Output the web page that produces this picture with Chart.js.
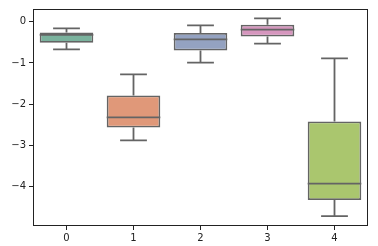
<!DOCTYPE html>
<html>
<head>
<meta charset="utf-8">
<script src="https://cdn.jsdelivr.net/npm/chart.js@4"></script>
<style>
  html, body { margin: 0; padding: 0; background: #fff; }
  #wrap { width: 378px; height: 246px; }
</style>
</head>
<body>
<div id="wrap"><canvas id="myChart" width="378" height="246"></canvas></div>
<script>
// box plot values
var labels = ["0", "1", "2", "3", "4"];
var whiskerLow = [-0.67, -2.88, -0.99, -0.53, -4.72];
var q1 = [-0.51, -2.57, -0.70, -0.36, -4.33];
var median = [-0.32, -2.32, -0.43, -0.19, -3.93];
var q3 = [-0.26, -1.79, -0.27, -0.07, -2.42];
var whiskerHigh = [-0.16, -1.28, -0.09, 0.08, -0.89];
var yTicks = [0, -1, -2, -3, -4];

var boxColors = ['rgb(122,178,157)', 'rgb(224,152,121)', 'rgb(148,162,193)', 'rgb(214,150,190)', 'rgb(170,198,110)'];
var lineColor = 'rgb(100,100,100)';

var boxes = [];
for (var i = 0; i < labels.length; i++) {
    boxes.push([q1[i], q3[i]]);
}

// whiskers, caps, medians and the frame
var boxPlugin = {
    id: 'boxExtras',
    afterDatasetsDraw: function(chart) {
        var ctx = chart.ctx;
        var x = chart.scales.x, y = chart.scales.y;
        var step = x.getPixelForValue(1) - x.getPixelForValue(0);
        ctx.save();
        ctx.strokeStyle = lineColor;
        ctx.lineWidth = 1.8;
        for (var i = 0; i < labels.length; i++) {
            var cx = x.getPixelForValue(i);
            var half = step * 0.4;
            var cap = step * 0.2;
            ctx.beginPath();
            // lower whisker
            ctx.moveTo(cx, y.getPixelForValue(q1[i]));
            ctx.lineTo(cx, y.getPixelForValue(whiskerLow[i]));
            ctx.moveTo(cx - cap, y.getPixelForValue(whiskerLow[i]));
            ctx.lineTo(cx + cap, y.getPixelForValue(whiskerLow[i]));
            // upper whisker
            ctx.moveTo(cx, y.getPixelForValue(q3[i]));
            ctx.lineTo(cx, y.getPixelForValue(whiskerHigh[i]));
            ctx.moveTo(cx - cap, y.getPixelForValue(whiskerHigh[i]));
            ctx.lineTo(cx + cap, y.getPixelForValue(whiskerHigh[i]));
            // median
            ctx.moveTo(cx - half, y.getPixelForValue(median[i]));
            ctx.lineTo(cx + half, y.getPixelForValue(median[i]));
            ctx.stroke();
        }
        var a = chart.chartArea;
        ctx.strokeStyle = '#222';
        ctx.lineWidth = 1;
        ctx.strokeRect(a.left + 0.5, a.top + 0.5, a.right - a.left - 1, a.bottom - a.top - 1);
        ctx.restore();
    }
};

var ctx = document.getElementById('myChart').getContext('2d');
var chart = new Chart(ctx, {
    type: 'bar',
    data: {
        labels: labels,
        datasets: [{
            data: boxes,
            backgroundColor: boxColors,
            borderColor: lineColor,
            borderWidth: 1.8,
            borderSkipped: false,
            barPercentage: 0.8,
            categoryPercentage: 1.0
        }]
    },
    options: {
        responsive: false,
        animation: false,
        layout: { padding: { top: 8, right: 10, left: 0, bottom: 0 } },
        plugins: { legend: { display: false }, tooltip: { enabled: false } },
        scales: {
            x: {
                offset: true,
                grid: { display: true, drawOnChartArea: false, drawTicks: true, tickLength: 4, color: '#222', offset: false },
                border: { display: false },
                ticks: { color: '#222', padding: 2, font: { family: 'DejaVu Sans', size: 10 } },
                afterFit: function(s) { s.height = 20; }
            },
            y: {
                min: -4.96,
                max: 0.31,
                afterBuildTicks: function(s) {
                    s.ticks = yTicks.map(function(v) { return { value: v }; });
                },
                grid: { display: true, drawOnChartArea: false, drawTicks: true, tickLength: 4, color: '#222' },
                border: { display: false },
                ticks: {
                    color: '#222',
                    padding: 3,
                    font: { family: 'DejaVu Sans', size: 10 },
                    callback: function(v) { return v < 0 ? '\u2212' + Math.abs(v) : String(v); }
                },
                afterFit: function(s) { s.width = 33; }
            }
        }
    },
    plugins: [boxPlugin]
});
</script>
</body>
</html>
